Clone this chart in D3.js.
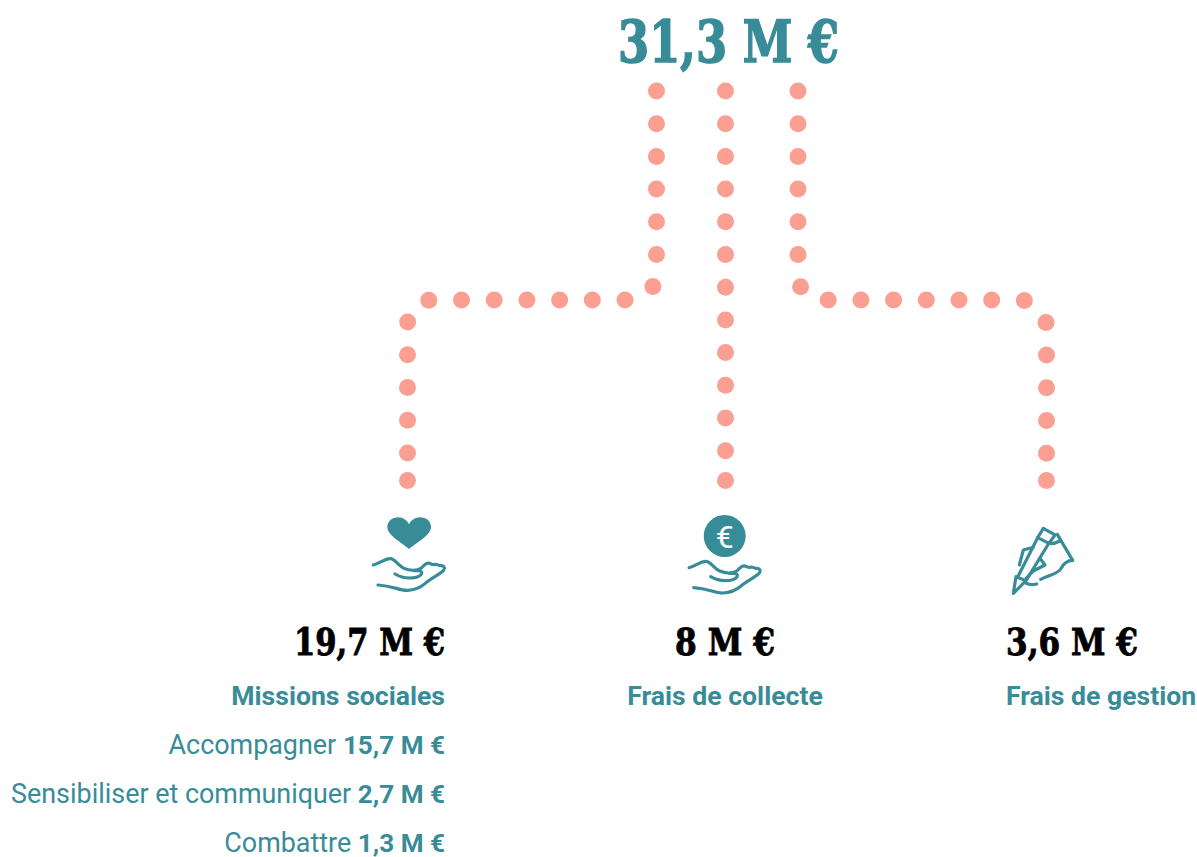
<!DOCTYPE html>
<html>
<head>
<meta charset="utf-8">
<style>
html, body { margin: 0; padding: 0; background: #fff; }
svg { display: block; }
text { font-family: Roboto, sans-serif; }
.slab { font-family: "DejaVu Serif", serif; font-weight: 700; }
</style>
</head>
<body>
<svg id="chart"></svg>
<script src="https://d3js.org/d3.v7.min.js"></script>
<script>
var WIDTH = 1197, HEIGHT = 857
var TEAL = '#388c98', DOT = '#fb9f93'

var totalLabel = '31,3 M €'
var categories = ['Missions sociales', 'Frais de collecte', 'Frais de gestion']
var valueLabels = ['19,7 M €', '8 M €', '3,6 M €']
var subCategories = ['Accompagner', 'Sensibiliser et communiquer', 'Combattre']
var subValueLabels = ['15,7 M €', '2,7 M €', '1,3 M €']

var DOT_STEP = 32.7, DOT_R = 8.5, TOP_Y = 91, BEND_Y = 300, END_Y = 480.5

var svg = d3.select('#chart').attr('width', WIDTH).attr('height', HEIGHT)

var topX = d3.scaleOrdinal(categories, [656.5, 725.5, 798])
var bottomX = d3.scaleOrdinal(categories, [407.5, 725.5, 1046.5])
var upperCorner = d3.scaleOrdinal(categories, [27, 0, 24])
var lowerCorner = d3.scaleOrdinal(categories, [25, 0, 27.5])

// route of each branch, the dots are sampled along it
function routeD(c) {
	var x0 = topX(c), x1 = bottomX(c)
	var p = d3.path()
	p.moveTo(x0, TOP_Y)
	if (x0 != x1) {
		p.arcTo(x0, BEND_Y, x1, BEND_Y, upperCorner(c))
		p.arcTo(x1, BEND_Y, x1, END_Y, lowerCorner(c))
	}
	p.lineTo(x1, END_Y)
	return p.toString()
}

var routes = svg.append('g').attr('fill', 'none')
categories.forEach(function(c) {
	var route = routes.append('path').attr('d', routeD(c)).node()
	var len = route.getTotalLength()
	var stops = d3.range(0, len - DOT_STEP / 2, DOT_STEP).concat([len])
	svg.append('g').selectAll('circle')
		.data(stops)
		.join('circle')
		.attr('cx', function(d) { return route.getPointAtLength(d).x })
		.attr('cy', function(d) { return route.getPointAtLength(d).y })
		.attr('r', DOT_R)
		.attr('fill', DOT)
})

// total
svg.append('text')
	.attr('class', 'slab')
	.attr('x', 618).attr('y', 62)
	.attr('textLength', 221).attr('lengthAdjust', 'spacingAndGlyphs')
	.style('font-size', '58px')
	.attr('fill', TEAL)
	.attr('stroke', TEAL)
	.attr('stroke-width', 1.6)
	.text(totalLabel)

// icons, drawn at 3x and scaled down
var HAND = 'M40,195 C58,190 78,174 92,176 C106,178 116,198 132,205 C148,212 170,214 184,204 C192,198 198,186 208,190 C214,192 222,196 226,193 C232,192 236,198 245,197 C254,198 256,206 250,212 C238,224 214,234 196,250 C182,262 166,270 142,271 C118,272 100,258 54,255'
var THUMB = 'M105,222 C122,232 148,236 168,232 C186,228 192,214 176,212 L162,212'
var HEART = 'M147,147 C120,125 82,105 82,82 C82,62 98,52 115,52 C130,52 142,62 147,73 C152,62 165,52 180,52 C198,52 213,62 213,82 C213,105 175,125 147,147 Z'
var PENCIL = ['M40,235 L48,185 L78,197 Z', 'M55,182 L113,68', 'M78,197 L147,84', 'M113,68 L130,40 L165,60 L147,85 Z',
	'M100,97 L70,105 L58,150', 'M148,85 C160,88 172,82 180,78', 'M172,58 L218,136', 'M218,136 C200,136 190,146 182,162 C172,178 150,178 122,193',
	'M120,130 L135,150 L100,168 C90,176 84,186 78,190', 'M78,205 C90,210 100,210 110,207']

function drawHand(g) {
	g.append('path').attr('d', HAND)
	g.append('path').attr('d', THUMB)
}
var line3x = { 'fill': 'none', 'stroke': TEAL, 'stroke-width': 9.5, 'stroke-linecap': 'round', 'stroke-linejoin': 'round' }
function icon(x, y) {
	var g = svg.append('g').attr('transform', 'translate(' + x + ',' + y + ') scale(0.3333)')
	Object.keys(line3x).forEach(function(k) { g.attr(k, line3x[k]) })
	return g
}

var heartIcon = icon(360, 500)
drawHand(heartIcon)
heartIcon.append('path').attr('d', HEART).attr('fill', TEAL).attr('stroke', 'none')

var euroIcon = icon(675.7, 502.7)
drawHand(euroIcon)
svg.append('circle').attr('cx', 724.7).attr('cy', 536).attr('r', 21).attr('fill', TEAL)
svg.append('text')
	.attr('x', 724.7).attr('y', 547.5)
	.attr('text-anchor', 'middle')
	.style('font-size', '32px')
	.attr('fill', '#fff')
	.text('€')

var pencilIcon = icon(1000, 515)
PENCIL.forEach(function(d) { pencilIcon.append('path').attr('d', d) })

// labels under the branches
var labelAnchor = d3.scaleOrdinal(categories, ['end', 'middle', 'start'])
var labelX = d3.scaleOrdinal(categories, [445, 725, 1006])
var valueWidth = d3.scaleOrdinal(categories, [151, 100, 132])

categories.forEach(function(c, i) {
	svg.append('text')
		.attr('class', 'slab')
		.attr('x', labelX(c)).attr('y', 655)
		.attr('text-anchor', labelAnchor(c))
		.attr('textLength', valueWidth(c)).attr('lengthAdjust', 'spacingAndGlyphs')
		.style('font-size', '37px')
		.attr('fill', '#000')
		.attr('stroke', '#000')
		.attr('stroke-width', 0.9)
		.text(valueLabels[i])

	svg.append('text')
		.attr('x', labelX(c)).attr('y', 705)
		.attr('text-anchor', labelAnchor(c))
		.style('font-weight', 700)
		.style('font-size', '26.6px')
		.attr('fill', TEAL)
		.text(c)
})

var subY = d3.scaleOrdinal(subCategories, [754, 802.5, 852])

subCategories.forEach(function(c, i) {
	var t = svg.append('text')
		.attr('x', 445).attr('y', subY(c))
		.attr('text-anchor', 'end')
		.style('font-size', '26.9px')
		.attr('fill', TEAL)
	t.append('tspan').text(c + ' ')
	t.append('tspan').style('font-weight', 700).style('font-size', '26.1px').text(subValueLabels[i])
})
</script>
</body>
</html>
